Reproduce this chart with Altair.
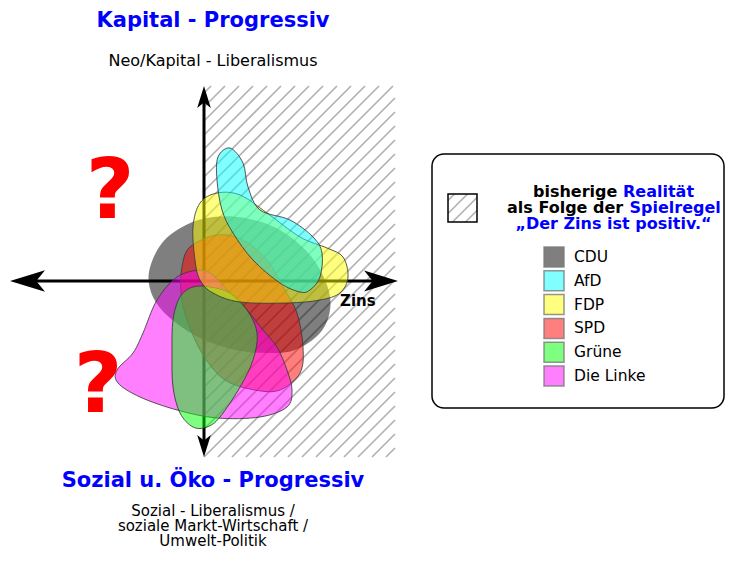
import altair as alt
import pandas as pd

FONT = "DejaVu Sans"

# ---- party outlines (image pixel coordinates) ----
parties = ["CDU", "AfD", "FDP", "SPD", "Grüne", "Die Linke"]
fills = ["#000000", "#00ffff", "#ffff00", "#ff0000", "#00ff00", "#ff00ff"]

cdu_x = [149, 162, 186, 213, 245, 280, 310, 327, 330, 320, 295, 267, 235, 200, 170, 153]
cdu_y = [272, 243, 225, 217, 218, 230, 255, 285, 310, 333, 350, 353, 350, 338, 318, 297]

afd_x = [230, 243, 248, 260, 290, 313, 322, 320, 310, 300, 280, 253, 233, 222, 217, 218]
afd_y = [148, 163, 187, 210, 220, 237, 253, 277, 290, 292, 283, 260, 233, 210, 180, 157]

fdp_x = [217, 240, 267, 300, 327, 343, 348, 340, 320, 287, 240, 213, 200, 195, 193, 200]
fdp_y = [193, 195, 213, 237, 248, 257, 277, 293, 300, 303, 302, 293, 280, 260, 227, 203]

spd_x = [217, 243, 267, 283, 297, 303, 300, 280, 255, 225, 203, 187, 181, 182, 190]
spd_y = [235, 240, 260, 287, 313, 347, 373, 390, 390, 380, 355, 320, 293, 267, 247]

linke_x = [200, 213, 227, 247, 263, 277, 287, 292, 287, 260, 217, 177, 140, 118, 117, 133, 143, 157, 177]
linke_y = [270, 275, 290, 310, 330, 347, 370, 390, 407, 417, 418, 410, 397, 383, 370, 353, 333, 300, 277]

gruene_x = [193, 210, 230, 247, 257, 253, 240, 220, 207, 193, 180, 173, 172, 173, 180]
gruene_y = [287, 287, 293, 310, 333, 360, 387, 417, 427, 427, 413, 387, 353, 320, 297]

outlines = {
    "CDU": (cdu_x, cdu_y),
    "AfD": (afd_x, afd_y),
    "FDP": (fdp_x, fdp_y),
    "SPD": (spd_x, spd_y),
    "Grüne": (gruene_x, gruene_y),
    "Die Linke": (linke_x, linke_y),
}
draw_order = ["CDU", "SPD", "Die Linke", "Grüne", "FDP", "AfD"]

# ---- texts ----
top_title = "Kapital - Progressiv"
top_sub = "Neo/Kapital - Liberalismus"
bottom_title = "Sozial u. Öko - Progressiv"
bottom_sub = ["Sozial - Liberalismus /", "soziale Markt-Wirtschaft /", "Umwelt-Politik"]
axis_label = "Zins"

X = alt.Scale(domain=[8, 725], nice=False, zero=False)
Y = alt.Scale(domain=[550, 8], nice=False, zero=False)


def hatch(x0, x1, y0, y1, step):
    rows = []
    c = x0 + y0 + step / 2
    while c < x1 + y1:
        xa = max(x0, c - y1)
        xb = min(x1, c - y0)
        if xb > xa:
            rows.append(dict(x=xa, y=c - xa, x2=xb, y2=c - xb))
        c += step
    return pd.DataFrame(rows)


def rules(df, **kw):
    return alt.Chart(df).mark_rule(**kw).encode(
        x=alt.X("x:Q", scale=X, axis=None), y=alt.Y("y:Q", scale=Y, axis=None),
        x2="x2:Q", y2="y2:Q")


def texts(rows, **kw):
    df = pd.DataFrame(rows, columns=["x", "y", "t"])
    return alt.Chart(df).mark_text(font=FONT, **kw).encode(
        x=alt.X("x:Q", scale=X, axis=None), y=alt.Y("y:Q", scale=Y, axis=None), text="t:N")


layers = []

# hatched region
layers.append(rules(hatch(204, 395, 86, 457, 14), color="#b3b3b3", strokeWidth=1.7))

# axes lines
axes_df = pd.DataFrame([dict(x=22, y=281, x2=386, y2=281), dict(x=204, y=100, x2=204, y2=443)])
layers.append(rules(axes_df, color="black", strokeWidth=3))

# arrow heads
arrow = "M0,0 L-2,-0.62 L-1.5,0 L-2,0.62 Z"
arr_df = pd.DataFrame([
    dict(x=10, y=281, a=180, s=1225),
    dict(x=398, y=281, a=0, s=1150),
    dict(x=204, y=86, a=270, s=484),
    dict(x=204, y=457, a=90, s=484),
])
layers.append(alt.Chart(arr_df).mark_point(shape=arrow, filled=True, color="black", opacity=1,
                                            strokeWidth=0).encode(
    x=alt.X("x:Q", scale=X, axis=None), y=alt.Y("y:Q", scale=Y, axis=None),
    angle=alt.Angle("a:Q", scale=None), size=alt.Size("s:Q", scale=None)))

# party blobs
for p in draw_order:
    xs, ys = outlines[p]
    df = pd.DataFrame({"x": xs, "y": ys, "i": range(len(xs))})
    col = fills[parties.index(p)]
    kw = dict(interpolate="cardinal-closed", fill=col, fillOpacity=0.5)
    if p == "CDU":
        kw.update(strokeOpacity=0)
    else:
        kw.update(stroke="#3a3a3a", strokeWidth=1, strokeOpacity=0.85)
    layers.append(alt.Chart(df).mark_line(**kw).encode(
        x=alt.X("x:Q", scale=X, axis=None), y=alt.Y("y:Q", scale=Y, axis=None),
        order="i:Q"))

# question marks
layers.append(texts([(110, 218, "?"), (98, 412, "?")], fontSize=84, fontWeight="bold",
                    color="#ff0000", align="center", baseline="alphabetic"))

# Zins label
layers.append(texts([(340, 306, axis_label)], fontSize=15, fontWeight="bold", color="black",
                    align="left", baseline="alphabetic"))

# titles
layers.append(texts([(213, 27, top_title), (213, 487, bottom_title)], fontSize=21,
                    fontWeight="bold", color="#0000ff", align="center", baseline="alphabetic"))
layers.append(texts([(213, 66, top_sub)], fontSize=16, color="black", align="center",
                    baseline="alphabetic"))
layers.append(texts([(213, b, t) for b, t in zip([516, 531, 546], bottom_sub)],
                    fontSize=15, color="black", align="center", baseline="alphabetic"))

# legend box
box_df = pd.DataFrame([dict(x=432, x2=724, y=154, y2=408)])
layers.append(alt.Chart(box_df).mark_rect(fill="white", stroke="black", strokeWidth=1.5,
                                           cornerRadius=12).encode(
    x=alt.X("x:Q", scale=X, axis=None), x2="x2:Q",
    y=alt.Y("y:Q", scale=Y, axis=None), y2="y2:Q"))

# hatched swatch
layers.append(rules(hatch(448, 477, 194, 222, 13), color="#b3b3b3", strokeWidth=1.7))
sw_df = pd.DataFrame([dict(x=448, x2=477, y=194, y2=222)])
layers.append(alt.Chart(sw_df).mark_rect(fill=None, fillOpacity=0, stroke="black",
                                          strokeWidth=1.5).encode(
    x=alt.X("x:Q", scale=X, axis=None), x2="x2:Q",
    y=alt.Y("y:Q", scale=Y, axis=None), y2="y2:Q"))

# legend header
layers.append(texts([(533, 197, "bisherige"), (507, 213, "als Folge der")], fontSize=16,
                    fontWeight="bold", color="black", align="left", baseline="alphabetic"))
layers.append(texts([(623, 197, "Realität"), (629.5, 213, "Spielregel")], fontSize=16,
                    fontWeight="bold", color="#0000ff", align="left", baseline="alphabetic"))
layers.append(texts([(613.5, 229, "„Der Zins ist positiv.“")], fontSize=16,
                    fontWeight="bold", color="#0000ff", align="center", baseline="alphabetic"))

# legend entries
leg_df = pd.DataFrame({"p": parties, "c": fills,
                       "x": [554] * 6, "tx": [574] * 6,
                       "y": [257 + 23.8 * i for i in range(6)]})
layers.append(alt.Chart(leg_df).mark_point(shape="square", size=400, filled=True, fillOpacity=0.5,
                                            stroke="#7a7a7a", strokeWidth=1.5, strokeOpacity=0.8).encode(
    x=alt.X("x:Q", scale=X, axis=None), y=alt.Y("y:Q", scale=Y, axis=None),
    fill=alt.Fill("c:N", scale=None)))
layers.append(alt.Chart(leg_df).mark_text(font=FONT, fontSize=15.5, align="left", baseline="middle",
                                           color="black").encode(
    x=alt.X("tx:Q", scale=X, axis=None), y=alt.Y("y:Q", scale=Y, axis=None), text="p:N"))

chart = alt.layer(*layers).properties(width=717, height=542, padding=0).configure_view(stroke=None)
chart.save("out.html", embed_options={"renderer": "svg", "actions": False})
